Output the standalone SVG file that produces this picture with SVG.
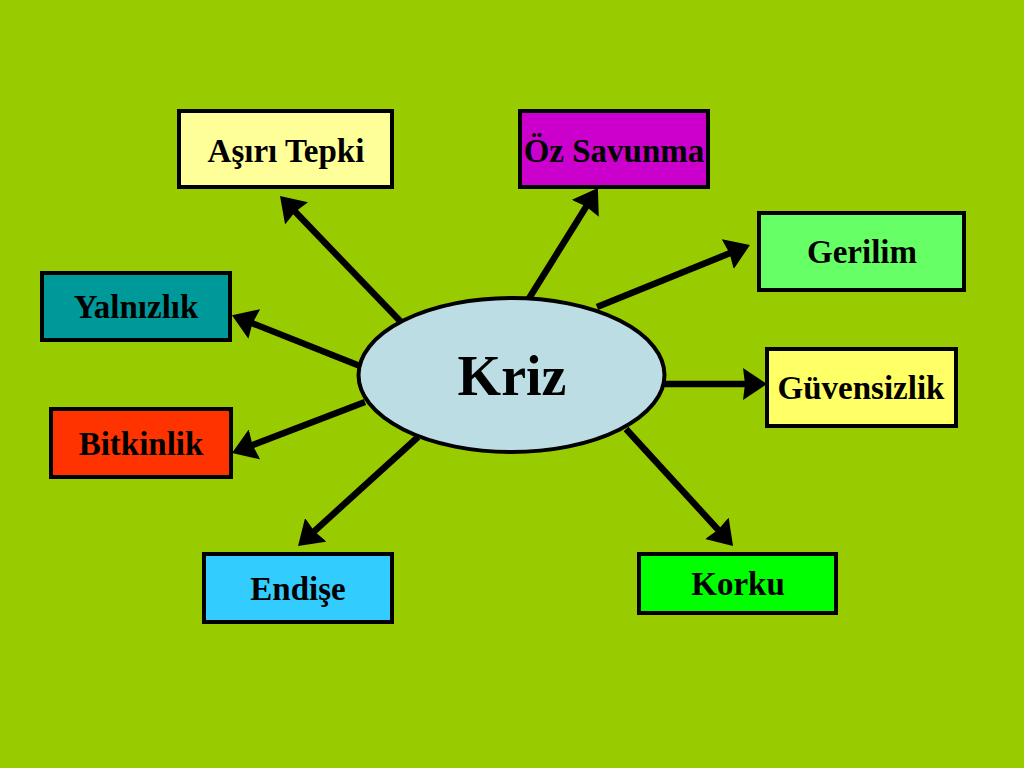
<svg xmlns="http://www.w3.org/2000/svg" width="1024" height="768" viewBox="0 0 1024 768">
<style>
.box{stroke:#000;stroke-width:4}
.lbl{font-family:"Liberation Serif","Times New Roman",serif;font-weight:bold;font-size:33px;fill:#000;text-anchor:middle}
.con{stroke:#000;stroke-width:6.5;fill:none;marker-end:url(#ah)}
</style>
<defs>
<marker id="ah" viewBox="0 0 24 32" refX="10" refY="16" markerWidth="24" markerHeight="32" markerUnits="userSpaceOnUse" orient="auto">
<path d="M0,0 L24,16 L0,32 L2,16 z" fill="#000"/>
</marker>
</defs>
<rect width="1024" height="768" fill="#99CC00"/>
<g id="connectors">
<line class="con" x1="402" y1="323" x2="289.7" y2="206.1"/>
<line class="con" x1="528" y1="300" x2="590.5" y2="199.8"/>
<line class="con" x1="597" y1="307" x2="737" y2="250.3"/>
<line class="con" x1="360" y1="366" x2="245" y2="320.3"/>
<line class="con" x1="663" y1="384" x2="753" y2="384"/>
<line class="con" x1="365" y1="402" x2="245.1" y2="448"/>
<line class="con" x1="418" y1="437" x2="308.4" y2="536.6"/>
<line class="con" x1="626" y1="429" x2="723.6" y2="535.7"/>
</g>
<g id="kriz">
<ellipse class="box" cx="511.5" cy="375" rx="153" ry="77" fill="#BBDDE3"/>
<text class="lbl" x="512" y="395" style="font-size:56px">Kriz</text>
</g>
<g id="asiri-tepki">
<rect class="box" x="179" y="111" width="213" height="76" fill="#FFFF99"/>
<text class="lbl" x="286" y="162">Aşırı Tepki</text>
</g>
<g id="oz-savunma">
<rect class="box" x="520" y="111" width="188" height="76" fill="#CC00CC"/>
<text class="lbl" x="614" y="162">Öz Savunma</text>
</g>
<g id="gerilim">
<rect class="box" x="759" y="213" width="205" height="77" fill="#66FF66"/>
<text class="lbl" x="862" y="263">Gerilim</text>
</g>
<g id="yalnizlik">
<rect class="box" x="42" y="273" width="188" height="67" fill="#009999"/>
<text class="lbl" x="136" y="318">Yalnızlık</text>
</g>
<g id="guvensizlik">
<rect class="box" x="767" y="349" width="189" height="77" fill="#FFFF66"/>
<text class="lbl" x="861" y="399">Güvensizlik</text>
</g>
<g id="bitkinlik">
<rect class="box" x="51" y="409" width="180" height="68" fill="#FF3300"/>
<text class="lbl" x="141" y="455">Bitkinlik</text>
</g>
<g id="endise">
<rect class="box" x="204" y="554" width="188" height="68" fill="#33CCFF"/>
<text class="lbl" x="298" y="600">Endişe</text>
</g>
<g id="korku">
<rect class="box" x="639" y="554" width="197" height="59" fill="#00FF00"/>
<text class="lbl" x="738" y="595">Korku</text>
</g>
</svg>
